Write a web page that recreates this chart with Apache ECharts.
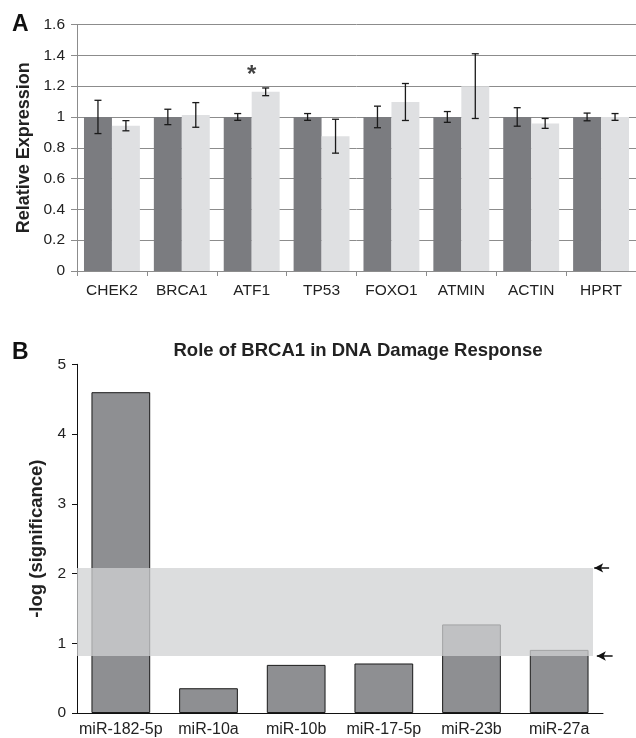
<!DOCTYPE html>
<html>
<head>
<meta charset="utf-8">
<script src="https://cdn.jsdelivr.net/npm/echarts@6/dist/echarts.min.js"></script>
<style>
html,body{margin:0;padding:0;background:#fff;}
#chart{width:636px;height:738px;}
</style>
</head>
<body>
<div id="chart"></div>
<script>
// ---- Panel A data ----
const genes = ['CHEK2', 'BRCA1', 'ATF1', 'TP53', 'FOXO1', 'ATMIN', 'ACTIN', 'HPRT'];
const controlExpr = [1, 1, 1, 1, 1, 1, 1, 1];
const treatedExpr = [0.943, 1.013, 1.163, 0.875, 1.097, 1.2, 0.958, 1.0];
const controlErr = [0.108, 0.05, 0.022, 0.022, 0.07, 0.035, 0.06, 0.025];
const treatedErr = [0.033, 0.08, 0.025, 0.11, 0.12, 0.21, 0.032, 0.022];
const starGene = 'ATF1';
const starValue = 1.27;
const exprTicks = [0, 0.2, 0.4, 0.6, 0.8, 1, 1.2, 1.4, 1.6];

// ---- Panel B data ----
const mirs = ['miR-182-5p', 'miR-10a', 'miR-10b', 'miR-17-5p', 'miR-23b', 'miR-27a'];
const significance = [4.6, 0.355, 0.69, 0.71, 1.27, 0.905];
const thresholdLow = 0.845;
const thresholdHigh = 2.1;
const sigTicks = [0, 1, 2, 3, 4, 5];

const FONT = "'Liberation Sans', Arial, Helvetica, sans-serif";
const TXT = '#222';
const GRAY = '#8c8c8c';

const errData = [];
genes.forEach((g, i) => {
  errData.push([i, controlExpr[i], controlErr[i], 0]);
  errData.push([i, treatedExpr[i], treatedErr[i], 1]);
});

const chart = echarts.init(document.getElementById('chart'), null, {renderer: 'canvas'});

chart.setOption({
  animation: false,
  textStyle: {fontFamily: FONT, color: TXT},
  title: [
    {text: 'A', left: 12, top: 13, padding: 0, textStyle: {fontFamily: FONT, fontSize: 23, fontWeight: 'bold', color: '#111'}},
    {text: 'B', left: 12, top: 341, padding: 0, textStyle: {fontFamily: FONT, fontSize: 23, fontWeight: 'bold', color: '#111'}},
    {text: 'Role of BRCA1 in DNA Damage Response', left: 358, textAlign: 'center', top: 341, padding: 0,
      textStyle: {fontFamily: FONT, fontSize: 18.5, fontWeight: 'bold', color: TXT}}
  ],
  grid: [
    {left: 77, top: 24.5, width: 560, height: 246.5},
    {left: 77, top: 364.3, width: 526, height: 351},
    {left: 77, top: 364.3, width: 540, height: 351}
  ],
  xAxis: [
    {type: 'category', gridIndex: 0, data: genes,
      axisLine: {lineStyle: {color: GRAY, width: 1}},
      axisTick: {show: true, length: 5, lineStyle: {color: GRAY}},
      axisLabel: {color: TXT, fontSize: 15.5, margin: 12, fontFamily: FONT, interval: 0}},
    {type: 'category', gridIndex: 1, data: mirs,
      axisLine: {lineStyle: {color: '#111', width: 1}},
      axisTick: {show: false},
      axisLabel: {color: TXT, fontSize: 16, margin: 9, fontFamily: FONT, interval: 0}},
    {type: 'value', gridIndex: 2, min: 0, max: 6.16, show: false}
  ],
  yAxis: [
    {type: 'value', gridIndex: 0, min: exprTicks[0], max: exprTicks[exprTicks.length - 1], interval: 0.2,
      name: 'Relative Expression', nameLocation: 'middle', nameGap: 40, nameRotate: 90,
      nameTextStyle: {fontSize: 18, fontWeight: 'bold', color: TXT, fontFamily: FONT},
      axisLine: {show: true, lineStyle: {color: GRAY, width: 1}},
      axisTick: {show: true, length: 6, lineStyle: {color: GRAY}},
      splitLine: {show: true, lineStyle: {color: GRAY, width: 1}},
      axisLabel: {color: TXT, fontSize: 15.5, margin: 12, fontFamily: FONT}},
    {type: 'value', gridIndex: 1, min: sigTicks[0], max: sigTicks[sigTicks.length - 1], interval: 1,
      name: '-log (significance)', nameLocation: 'middle', nameGap: 28, nameRotate: 90,
      nameTextStyle: {fontSize: 18.5, fontWeight: 'bold', color: TXT, fontFamily: FONT},
      axisLine: {show: true, lineStyle: {color: '#111', width: 1}},
      axisTick: {show: true, length: 5, lineStyle: {color: '#111'}},
      splitLine: {show: false},
      axisLabel: {color: TXT, fontSize: 15.5, margin: 11, fontFamily: FONT}},
    {type: 'value', gridIndex: 2, min: 0, max: 5, show: false}
  ],
  series: [
    {type: 'bar', name: 'control', xAxisIndex: 0, yAxisIndex: 0, data: controlExpr,
      barGap: '0%', barCategoryGap: '20%', itemStyle: {color: '#7b7c80'}, z: 2},
    {type: 'bar', name: 'treated', xAxisIndex: 0, yAxisIndex: 0, data: treatedExpr,
      barGap: '0%', barCategoryGap: '20%', itemStyle: {color: '#dfe0e2'}, z: 2},
    {type: 'custom', name: 'err', xAxisIndex: 0, yAxisIndex: 0, data: errData, z: 5,
      encode: {x: 0, y: 1},
      renderItem: function (params, api) {
        const x = api.value(0), v = api.value(1), e = api.value(2), g = api.value(3);
        const bandW = api.size([1, 0])[0];
        const barW = bandW * 0.8 / 2;
        const off = (g === 0 ? -0.5 : 0.5) * barW;
        const top = api.coord([x, v + e]);
        const bot = api.coord([x, v - e]);
        const cx = top[0] + off;
        const hw = 3.5;
        const st = {stroke: '#1a1a1a', lineWidth: 1.3};
        return {type: 'group', children: [
          {type: 'line', shape: {x1: cx, y1: top[1], x2: cx, y2: bot[1]}, style: st},
          {type: 'line', shape: {x1: cx - hw, y1: top[1], x2: cx + hw, y2: top[1]}, style: st},
          {type: 'line', shape: {x1: cx - hw, y1: bot[1], x2: cx + hw, y2: bot[1]}, style: st}
        ]};
      }},
    {type: 'scatter', name: 'star', xAxisIndex: 0, yAxisIndex: 0, data: [[starGene, starValue]],
      symbolSize: 1, itemStyle: {color: 'transparent'}, z: 6,
      label: {show: true, formatter: '*', position: 'inside', fontSize: 24, fontWeight: 'bold', color: '#111', fontFamily: FONT}},
    {type: 'bar', name: 'significance', xAxisIndex: 1, yAxisIndex: 1, data: significance,
      barCategoryGap: '33%', itemStyle: {color: '#8e8f92', borderColor: '#1a1a1a', borderWidth: 1}, z: 2},
    {type: 'line', name: 'threshold', xAxisIndex: 2, yAxisIndex: 2, data: [], z: 10, clip: false,
      markArea: {silent: true, z: 10,
        itemStyle: {color: 'rgba(208,209,211,0.75)', borderWidth: 0},
        data: [[{coord: [0, thresholdLow]}, {coord: [5.886, thresholdHigh]}]]},
      markLine: {silent: true, z: 10, symbol: ['none', 'arrow'], symbolSize: [7, 9],
        label: {show: false},
        lineStyle: {color: '#111', width: 1.5, type: 'solid'},
        data: [
          [{coord: [6.07, thresholdHigh]}, {coord: [5.9, thresholdHigh]}],
          [{coord: [6.11, thresholdLow]}, {coord: [5.93, thresholdLow]}]
        ]}}
  ]
});
</script>
</body>
</html>
